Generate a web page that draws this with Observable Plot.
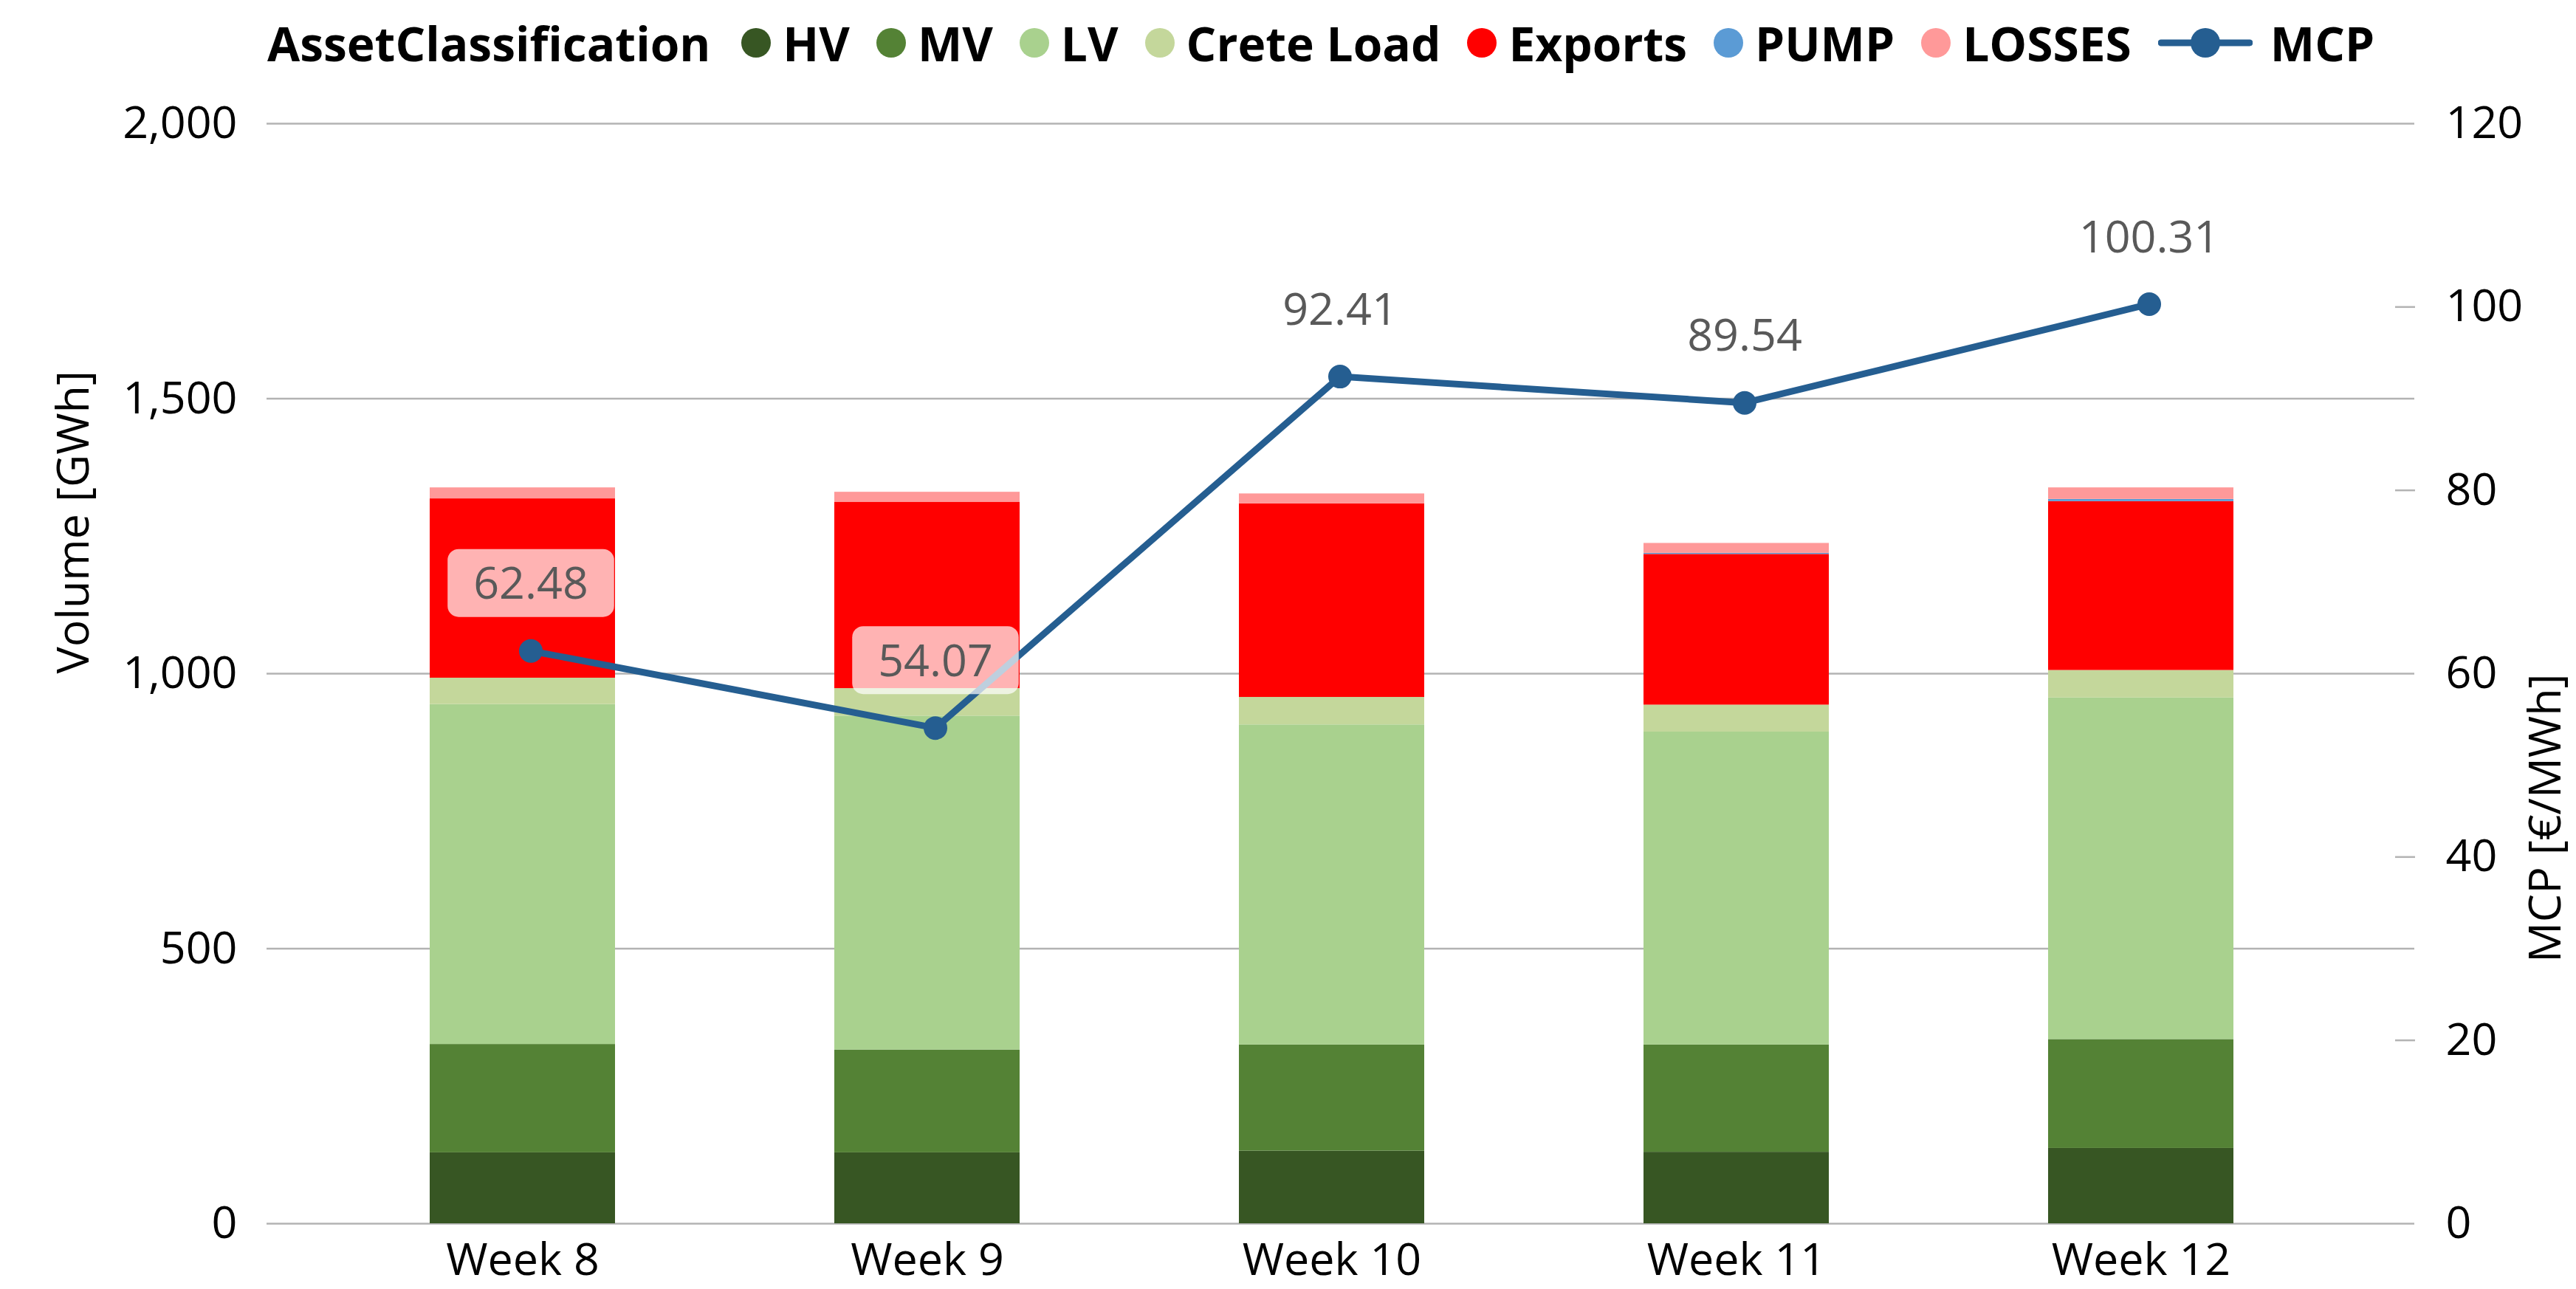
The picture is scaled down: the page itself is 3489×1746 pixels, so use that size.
<!DOCTYPE html>
<html>
<head>
<meta charset="utf-8">
<script src="https://cdn.jsdelivr.net/npm/d3@7"></script>
<script src="https://cdn.jsdelivr.net/npm/@observablehq/plot@0.6"></script>
<style>
  html, body { margin: 0; padding: 0; background: #fff; }
  body { width: 3489px; height: 1746px; overflow: hidden; font-family: "Open Sans", sans-serif; }
  #legend { position: relative; height: 110px; width: 3489px; }
  #legend .row { position: absolute; left: 362px; top: 18px; height: 80px; display: flex; align-items: center;
    font-weight: 700; font-size: 64px; color: #000; white-space: nowrap; }
  #legend .title { margin-right: 42px; }
  #legend .dot { width: 40px; height: 40px; border-radius: 50%; margin-right: 16px; flex: none; }
  #legend .lab { margin-right: 36px; }
  #legend svg { margin-right: 24px; flex: none; }
  #chart svg { display: block; }
</style>
</head>
<body>
<div id="legend"></div>
<div id="chart"></div>
<script>
// ---- data ----
const weeks = ["Week 8", "Week 9", "Week 10", "Week 11", "Week 12"];
const series = ["HV", "MV", "LV", "Crete Load", "Exports", "PUMP", "LOSSES"];
const seriesColors = ["#375623", "#548235", "#A9D18E", "#C4D79B", "#FF0000", "#5B9BD5", "#FF9999"];
const hv = [129, 129, 132, 130, 137];
const mv = [197, 187, 193, 195, 198];
const lv = [618, 607, 582, 569, 621];
const creteLoad = [48, 50, 50, 49, 50];
const exportsVol = [326, 339, 352, 274, 307];
const pump = [0, 0, 0, 2, 4];
const losses = [20, 18, 18, 18, 21];
const mcp = [62.48, 54.07, 92.41, 89.54, 100.31];
const volumeTicks = [0, 500, 1000, 1500, 2000];
const mcpTicks = [0, 20, 40, 60, 80, 100, 120];
const lineColor = "#255E91";

// ---- build tables ----
const seriesValues = [hv, mv, lv, creteLoad, exportsVol, pump, losses];
const volumeData = [];
series.forEach((s, i) => weeks.forEach((w, j) => volumeData.push({week: w, series: s, value: seriesValues[i][j]})));
const mcpData = weeks.map((w, j) => ({week: w, mcp: mcp[j]}));
const volMax = 2000, mcpMax = 120;
const toVol = v => v * volMax / mcpMax;
const fmtMcp = v => v.toFixed(2);

// ---- legend ----
const legend = document.getElementById("legend");
const row = document.createElement("div");
row.className = "row";
const title = document.createElement("span");
title.className = "title";
title.textContent = "AssetClassification";
row.append(title);
series.forEach((s, i) => {
  const d = document.createElement("span");
  d.className = "dot";
  d.style.background = seriesColors[i];
  const l = document.createElement("span");
  l.className = "lab";
  l.textContent = s;
  row.append(d, l);
});
const ns = "http://www.w3.org/2000/svg";
const lsvg = document.createElementNS(ns, "svg");
lsvg.setAttribute("width", 128); lsvg.setAttribute("height", 44);
const ll = document.createElementNS(ns, "line");
ll.setAttribute("x1", 4); ll.setAttribute("x2", 124); ll.setAttribute("y1", 22); ll.setAttribute("y2", 22);
ll.setAttribute("stroke", lineColor); ll.setAttribute("stroke-width", 9); ll.setAttribute("stroke-linecap", "round");
const lc = document.createElementNS(ns, "circle");
lc.setAttribute("cx", 64); lc.setAttribute("cy", 22); lc.setAttribute("r", 20); lc.setAttribute("fill", lineColor);
lsvg.append(ll, lc);
const mcpLab = document.createElement("span");
mcpLab.textContent = "MCP";
row.append(lsvg, mcpLab);
legend.append(row);

// ---- chart ----
const grid = "#b3b3b3";
const chart = Plot.plot({
  width: 3489,
  height: 1636,
  marginLeft: 361,
  marginRight: 219,
  marginTop: 57,
  marginBottom: 89,
  style: {fontFamily: "'Open Sans', sans-serif", fontSize: "61px", color: "#000", background: "#fff"},
  x: {domain: weeks, range: [433.5, 3174], paddingInner: 0.542, paddingOuter: 0.271, label: null},
  y: {domain: [0, volMax], label: null},
  color: {domain: series, range: seriesColors},
  marks: [
    Plot.ruleY(volumeTicks, {stroke: grid, strokeWidth: 2.5}),
    Plot.axisY(mcpTicks.filter(v => v % 30 !== 0).map(toVol), {anchor: "right", tickSize: 27, dx: -27, fill: "none", stroke: grid, strokeWidth: 2.5, label: null}),
    Plot.axisY(volumeTicks, {anchor: "left", tickSize: 0, tickPadding: 40, tickFormat: d3.format(","), label: null}),
    Plot.axisY(mcpTicks.map(toVol), {anchor: "right", tickSize: 0, tickPadding: 42, tickFormat: d => String(Math.round(d * mcpMax / volMax)), label: null}),
    Plot.axisX({tickSize: 0, tickPadding: 26, label: null}),
    Plot.barY(volumeData, {x: "week", y: "value", fill: "series"}),
    Plot.line(mcpData, {x: "week", y: d => toVol(d.mcp), stroke: lineColor, strokeWidth: 9, dx: 11}),
    Plot.dot(mcpData, {x: "week", y: d => toVol(d.mcp), r: 16, fill: lineColor, dx: 11}),
    Plot.text(mcpData, {x: "week", y: d => toVol(d.mcp), text: d => fmtMcp(d.mcp), dx: 11, dy: -90, fill: "#595959", fontSize: 61}),
    Plot.text(["Volume [GWh]"], {text: d => d, frameAnchor: "left", rotate: -90, dx: -261, fill: "#000", fontSize: 61}),
    Plot.text(["MCP [€/MWh]"], {text: d => d, frameAnchor: "right", rotate: -90, dx: 178, fill: "#000", fontSize: 61})
  ]
});
document.getElementById("chart").append(chart);

// semi-transparent rounded label boxes behind MCP data labels
const labelSet = new Set(mcp.map(fmtMcp));
Array.from(chart.querySelectorAll("text"))
  .filter(t => labelSet.has(t.textContent.trim()))
  .forEach(t => {
    const b = t.getBBox();
    const w = b.width + 70, h = 92;
    const r = document.createElementNS(ns, "rect");
    r.setAttribute("x", b.x + b.width / 2 - w / 2);
    r.setAttribute("y", b.y + b.height / 2 - h / 2 + 2);
    r.setAttribute("width", w);
    r.setAttribute("height", h);
    r.setAttribute("rx", 15);
    r.setAttribute("fill", "#fff");
    r.setAttribute("fill-opacity", 0.7);
    r.setAttribute("stroke", "none");
    const tr = t.getAttribute("transform");
    if (tr) r.setAttribute("transform", tr);
    t.parentNode.insertBefore(r, t);
  });
</script>
</body>
</html>
